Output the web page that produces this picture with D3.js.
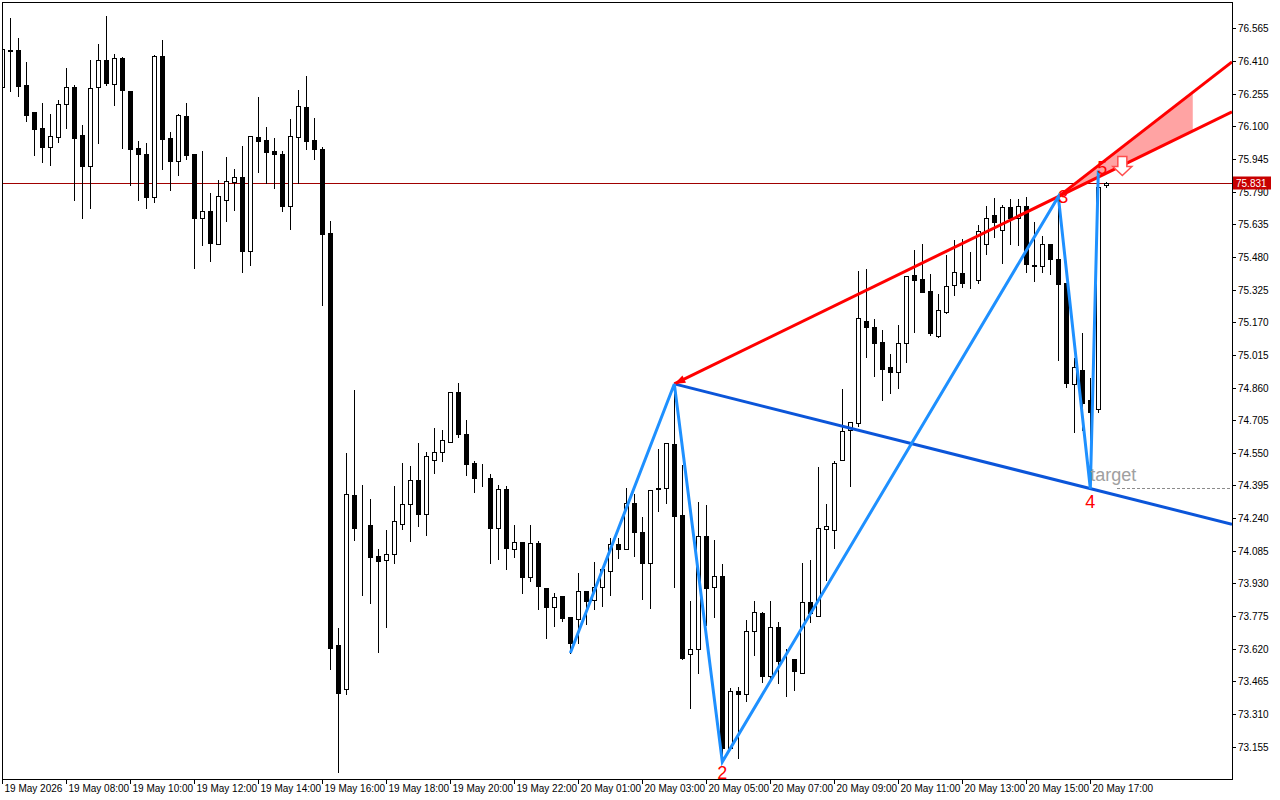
<!DOCTYPE html>
<html>
<head>
<meta charset="utf-8">
<script src="https://cdn.jsdelivr.net/npm/d3@7"></script>
<style>
  body { margin: 0; background: #fff; }
  svg { display: block; }
  text { font-family: "Liberation Sans", Arial, sans-serif; }
</style>
</head>
<body>
<div id="chart"></div>
<script>
// M15 candles, 19 May 06:00 -> 20 May 17:30
const opens = [
  76.288, 76.464, 76.462, 76.296, 76.167, 76.092, 76.003, 76.047, 76.204, 76.286,
  76.058, 75.913, 76.288, 76.413, 76.302, 76.422, 76.267, 75.997, 75.968, 75.766,
  76.433, 76.044, 75.936, 76.148, 75.968, 75.666, 75.698, 75.543, 75.751, 75.837,
  75.859, 75.509, 76.049, 76.035, 75.982, 75.968, 75.723, 76.047, 76.191, 76.035,
  75.992, 75.593, 73.636, 73.428, 74.350, 74.198, 74.207, 74.060, 74.040, 74.068,
  74.214, 74.306, 74.421, 74.261, 74.517, 74.552, 74.603, 74.837, 74.639, 74.500,
  74.432, 74.429, 74.195, 74.377, 74.092, 74.128, 73.962, 74.121, 73.907, 73.820,
  73.869, 73.769, 73.760, 73.893, 73.850, 73.912, 73.991, 74.116, 74.092, 74.310,
  74.173, 74.028, 74.379, 74.382, 74.592, 74.255, 73.594, 73.617, 74.155, 73.915,
  73.964, 73.150, 73.418, 73.404, 73.703, 73.790, 73.492, 73.722, 73.566, 73.570,
  73.506, 73.842, 73.774, 74.190, 74.185, 74.514, 74.658, 74.693, 75.174, 75.147,
  75.074, 74.956, 74.935, 75.070, 75.394, 75.375, 75.318, 75.106, 75.217, 75.345,
  75.402, 75.366, 75.370, 75.540, 75.680, 75.607, 75.715, 75.663, 75.720, 75.441,
  75.438, 75.541, 75.470, 75.354, 74.877, 74.943, 74.801, 74.758, 75.819
];
const highs = [
  76.614, 76.620, 76.523, 76.409, 76.167, 76.215, 76.163, 76.229, 76.381, 76.300,
  76.111, 76.419, 76.495, 76.628, 76.447, 76.432, 76.267, 76.035, 76.025, 76.443,
  76.514, 76.077, 76.163, 76.215, 75.968, 75.987, 75.788, 75.849, 75.959, 75.902,
  76.011, 76.052, 76.243, 76.101, 76.049, 75.987, 76.139, 76.277, 76.343, 76.144,
  76.006, 75.655, 73.723, 74.554, 74.853, 74.402, 74.336, 74.098, 74.188, 74.397,
  74.506, 74.492, 74.601, 74.559, 74.673, 74.663, 74.840, 74.886, 74.710, 74.516,
  74.500, 74.454, 74.402, 74.397, 74.212, 74.128, 74.212, 74.135, 73.907, 73.889,
  73.877, 73.769, 73.984, 73.893, 74.037, 74.009, 74.149, 74.151, 74.386, 74.361,
  74.250, 74.374, 74.571, 74.595, 74.877, 74.495, 73.851, 74.321, 74.307, 74.141,
  74.027, 73.440, 73.443, 73.761, 73.851, 73.799, 73.851, 73.753, 73.625, 73.570,
  74.032, 74.046, 74.487, 74.312, 74.516, 74.856, 74.698, 75.418, 75.426, 75.190,
  75.136, 75.024, 75.161, 75.389, 75.517, 75.546, 75.403, 75.308, 75.495, 75.563,
  75.571, 75.508, 75.637, 75.726, 75.763, 75.729, 75.758, 75.758, 75.769, 75.649,
  75.585, 75.546, 75.766, 75.354, 75.006, 75.123, 74.911, 75.887, 75.840
];
const lows = [
  76.248, 76.269, 76.245, 76.126, 75.965, 75.930, 75.917, 76.025, 76.093, 75.750,
  75.666, 75.713, 76.020, 76.296, 76.201, 75.997, 75.821, 75.750, 75.712, 75.740,
  75.897, 75.797, 75.868, 75.944, 75.428, 75.536, 75.460, 75.543, 75.652, 75.702,
  75.410, 75.441, 75.883, 75.830, 75.808, 75.699, 75.614, 75.830, 75.993, 75.946,
  75.251, 73.523, 73.037, 73.404, 74.138, 73.877, 73.839, 73.606, 73.725, 74.028,
  74.190, 74.133, 74.204, 74.161, 74.456, 74.513, 74.600, 74.626, 74.446, 74.365,
  74.394, 74.028, 74.047, 74.000, 74.057, 73.886, 73.943, 73.810, 73.673, 73.729,
  73.753, 73.600, 73.646, 73.739, 73.810, 73.824, 73.877, 74.052, 74.092, 74.062,
  73.855, 73.815, 74.275, 74.313, 73.912, 73.570, 73.340, 73.506, 73.733, 73.772,
  73.083, 73.148, 73.100, 73.372, 73.590, 73.464, 73.464, 73.458, 73.397, 73.426,
  73.506, 73.746, 73.774, 73.946, 74.100, 74.514, 74.392, 74.677, 75.006, 74.915,
  74.801, 74.835, 74.859, 74.982, 75.125, 75.312, 75.110, 75.098, 75.212, 75.300,
  75.338, 75.331, 75.354, 75.495, 75.573, 75.449, 75.540, 75.538, 75.407, 75.367,
  75.410, 75.397, 74.990, 74.864, 74.650, 74.658, 74.385, 74.744, 75.814
];
const closes = [
  76.465, 76.458, 76.292, 76.155, 76.088, 76.003, 76.054, 76.204, 76.285, 76.046,
  75.913, 76.280, 76.413, 76.305, 76.422, 76.273, 75.992, 75.968, 75.764, 76.433,
  76.039, 75.936, 76.153, 75.963, 75.664, 75.698, 75.547, 75.767, 75.838, 75.858,
  75.509, 76.052, 76.031, 75.979, 75.970, 75.723, 76.052, 76.194, 76.031, 75.993,
  75.590, 73.624, 73.411, 74.353, 74.195, 74.196, 74.057, 74.038, 74.070, 74.225,
  74.306, 74.421, 74.261, 74.533, 74.552, 74.609, 74.837, 74.641, 74.498, 74.432,
  74.431, 74.195, 74.378, 74.100, 74.128, 73.962, 74.121, 73.919, 73.820, 73.867,
  73.767, 73.649, 73.893, 73.848, 73.912, 73.997, 74.116, 74.095, 74.310, 74.176,
  74.026, 74.374, 74.381, 74.595, 74.252, 73.578, 73.617, 74.155, 73.910, 73.964,
  73.148, 73.418, 73.404, 73.703, 73.793, 73.492, 73.722, 73.563, 73.568, 73.516,
  73.842, 73.788, 74.192, 74.203, 74.500, 74.654, 74.698, 75.190, 75.149, 75.073,
  74.949, 74.935, 75.070, 75.388, 75.372, 75.315, 75.119, 75.226, 75.340, 75.407,
  75.357, 75.364, 75.601, 75.663, 75.647, 75.718, 75.666, 75.720, 75.445, 75.439,
  75.541, 75.468, 75.353, 74.880, 74.959, 74.788, 74.745, 75.813, 75.831
];

// time axis labels, one every 8 bars
const timeLabels = [
  "19 May 2026", "19 May 08:00", "19 May 10:00", "19 May 12:00", "19 May 14:00",
  "19 May 16:00", "19 May 18:00", "19 May 20:00", "19 May 22:00", "20 May 01:00",
  "20 May 03:00", "20 May 05:00", "20 May 07:00", "20 May 09:00", "20 May 11:00",
  "20 May 13:00", "20 May 15:00", "20 May 17:00"
];
const priceTicks = [
  73.155, 73.310, 73.465, 73.620, 73.775, 73.930, 74.085, 74.240, 74.395, 74.550,
  74.705, 74.860, 75.015, 75.170, 75.325, 75.480, 75.635, 75.790, 75.945, 76.100,
  76.255, 76.410, 76.565
];
const currentPrice = 75.831;

// pattern pivots (bar index, price)
const pivotBars = [71, 84, 90, 132, 136, 137];
const pivotPrices = [73.600, 74.877, 73.083, 75.766, 74.380, 75.890];
const pivotNames = ["", "", "2", "3", "4", "5"];
const upperRayEnd = { bar: 153.7, price: 76.405 };   // steep red ray from pivot 3
const zoneEndBar = 148.8;
const targetPrice = 74.382;

const W = 1280, H = 800;
const plotL = 2, plotT = 2, plotR = 1232, plotB = 779;

const svg = d3.select("#chart").append("svg")
  .attr("width", W).attr("height", H);
svg.append("rect").attr("width", W).attr("height", H).attr("fill", "#fff");

const x = d3.scaleLinear().domain([0, 138]).range([2.33, 1106.33]);
const y = d3.scaleLinear().domain([73.155, 76.565]).range([746.7, 28.3]);
const px = i => Math.floor(x(i)) + 0.5;
const py = v => Math.round(y(v)) + 0.5;

svg.append("clipPath").attr("id", "plot")
  .append("rect").attr("x", plotL + 1).attr("y", plotT + 1)
  .attr("width", plotR - plotL - 1).attr("height", plotB - plotT - 1);

const plot = svg.append("g").attr("clip-path", "url(#plot)");

// current price line
plot.append("line")
  .attr("x1", plotL).attr("x2", plotR)
  .attr("y1", py(currentPrice)).attr("y2", py(currentPrice))
  .attr("stroke", "#a00000").attr("stroke-width", 1);

// candles
const bars = d3.range(opens.length).map(i => ({
  i, o: opens[i], h: highs[i], l: lows[i], c: closes[i]
}));

const candle = plot.append("g").attr("shape-rendering", "crispEdges")
  .selectAll("g").data(bars).join("g");

candle.append("line")
  .attr("x1", d => px(d.i)).attr("x2", d => px(d.i))
  .attr("y1", d => py(d.h)).attr("y2", d => py(d.l) + 0.5)
  .attr("stroke", "#000");

candle.append("rect")
  .attr("x", d => px(d.i) - 2)
  .attr("width", 4)
  .attr("y", d => py(Math.max(d.o, d.c)))
  .attr("height", d => Math.max(0, py(Math.min(d.o, d.c)) - py(Math.max(d.o, d.c))))
  .attr("fill", d => d.c >= d.o ? "#fff" : "#000")
  .attr("stroke", "#000");

// pattern overlay
const pt = k => [x(pivotBars[k]), y(pivotPrices[k])];
const edgeBar = x.invert(plotR);

// line through pivots 1 and 3, extended to the right edge
const slope13 = (pivotPrices[3] - pivotPrices[1]) / (pivotBars[3] - pivotBars[1]);
const lower = b => pivotPrices[3] + (b - pivotBars[3]) * slope13;
const slopeUp = (upperRayEnd.price - pivotPrices[3]) / (upperRayEnd.bar - pivotBars[3]);
const upper = b => pivotPrices[3] + (b - pivotBars[3]) * slopeUp;

plot.append("path")
  .attr("d", d3.line()([
    pt(3),
    [x(zoneEndBar), y(upper(zoneEndBar))],
    [x(zoneEndBar), y(lower(zoneEndBar))]
  ]) + "Z")
  .attr("fill", "#ffa3a3");

// dark blue line through pivots 1 and 4
const slope14 = (pivotPrices[4] - pivotPrices[1]) / (pivotBars[4] - pivotBars[1]);
plot.append("line")
  .attr("x1", pt(1)[0]).attr("y1", pt(1)[1])
  .attr("x2", plotR).attr("y2", y(pivotPrices[1] + (edgeBar - pivotBars[1]) * slope14))
  .attr("stroke", "#0b55d9").attr("stroke-width", 3);

plot.append("line")
  .attr("x1", pt(1)[0]).attr("y1", pt(1)[1])
  .attr("x2", plotR).attr("y2", y(lower(edgeBar)))
  .attr("stroke", "#ff0000").attr("stroke-width", 3);

plot.append("line")
  .attr("x1", pt(3)[0]).attr("y1", pt(3)[1])
  .attr("x2", plotR).attr("y2", y(upper(edgeBar)))
  .attr("stroke", "#ff0000").attr("stroke-width", 3);

// arrow head at pivot 1
const ang = Math.atan2(pt(3)[1] - pt(1)[1], pt(3)[0] - pt(1)[0]);
const [ax, ay] = pt(1);
plot.append("path")
  .attr("d", d3.line()([
    [ax, ay],
    [ax + 11 * Math.cos(ang) - 4 * Math.sin(ang), ay + 11 * Math.sin(ang) + 4 * Math.cos(ang)],
    [ax + 11 * Math.cos(ang) + 4 * Math.sin(ang), ay + 11 * Math.sin(ang) - 4 * Math.cos(ang)]
  ]) + "Z")
  .attr("fill", "#ff0000");

// zigzag
plot.append("path")
  .attr("d", d3.line()(pivotBars.map((b, k) => pt(k))))
  .attr("fill", "none")
  .attr("stroke", "#1e90ff").attr("stroke-width", 3)
  .attr("stroke-linejoin", "miter");

// target
plot.append("line")
  .attr("x1", 1117).attr("x2", plotR)
  .attr("y1", py(targetPrice)).attr("y2", py(targetPrice))
  .attr("stroke", "#8c8c8c").attr("stroke-dasharray", "3,2");
plot.append("text")
  .attr("x", x(pivotBars[4])).attr("y", y(targetPrice) - 7)
  .attr("font-size", 18).attr("fill", "#a0a0a0")
  .text("target");

// sell arrow near point 5
const sx = x(pivotBars[5]) + 24, sy = y(pivotPrices[5]) - 14;
plot.append("path")
  .attr("d", `M${sx - 4.5},${sy} h9 v10 h5 l-9.5,9 l-9.5,-9 h5 Z`)
  .attr("fill", "#fff").attr("stroke", "#ff4d4d").attr("stroke-width", 1.5);

// pivot labels
const labelOffsets = { "2": [0, 17], "3": [5, 6], "4": [0, 19], "5": [4, 3] };
plot.selectAll("text.pivot")
  .data(pivotNames.map((n, k) => ({ n, k })).filter(d => d.n))
  .join("text").attr("class", "pivot")
  .attr("x", d => pt(d.k)[0] + labelOffsets[d.n][0])
  .attr("y", d => pt(d.k)[1] + labelOffsets[d.n][1])
  .attr("text-anchor", "middle")
  .attr("font-size", 18).attr("fill", "#ff0000")
  .text(d => d.n);

// frame
svg.append("rect")
  .attr("x", plotL + 0.5).attr("y", plotT + 0.5)
  .attr("width", plotR - plotL).attr("height", plotB - plotT)
  .attr("fill", "none").attr("stroke", "#000")
  .attr("shape-rendering", "crispEdges");

// price axis
const yAxis = svg.append("g").attr("shape-rendering", "crispEdges");
yAxis.selectAll("line").data(priceTicks).join("line")
  .attr("x1", plotR).attr("x2", plotR + 4)
  .attr("y1", d => py(d)).attr("y2", d => py(d))
  .attr("stroke", "#000");
yAxis.selectAll("text").data(priceTicks).join("text")
  .attr("x", plotR + 6).attr("y", d => y(d) + 4)
  .attr("font-size", 10).attr("fill", "#000")
  .text(d => d.toFixed(3));

svg.append("rect")
  .attr("x", plotR + 1).attr("y", py(currentPrice) - 7)
  .attr("width", 38).attr("height", 13)
  .attr("fill", "#c80000");
svg.append("text")
  .attr("x", plotR + 4).attr("y", y(currentPrice) + 4)
  .attr("font-size", 10).attr("fill", "#fff")
  .text(currentPrice.toFixed(3));

// time axis
const xAxis = svg.append("g").attr("shape-rendering", "crispEdges");
xAxis.selectAll("line").data(timeLabels).join("line")
  .attr("x1", (d, i) => px(i * 8)).attr("x2", (d, i) => px(i * 8))
  .attr("y1", plotB).attr("y2", plotB + 5)
  .attr("stroke", "#000");
xAxis.selectAll("text").data(timeLabels).join("text")
  .attr("x", (d, i) => px(i * 8) + 2).attr("y", plotB + 13)
  .attr("font-size", 10).attr("fill", "#000")
  .text(d => d);
</script>
</body>
</html>
